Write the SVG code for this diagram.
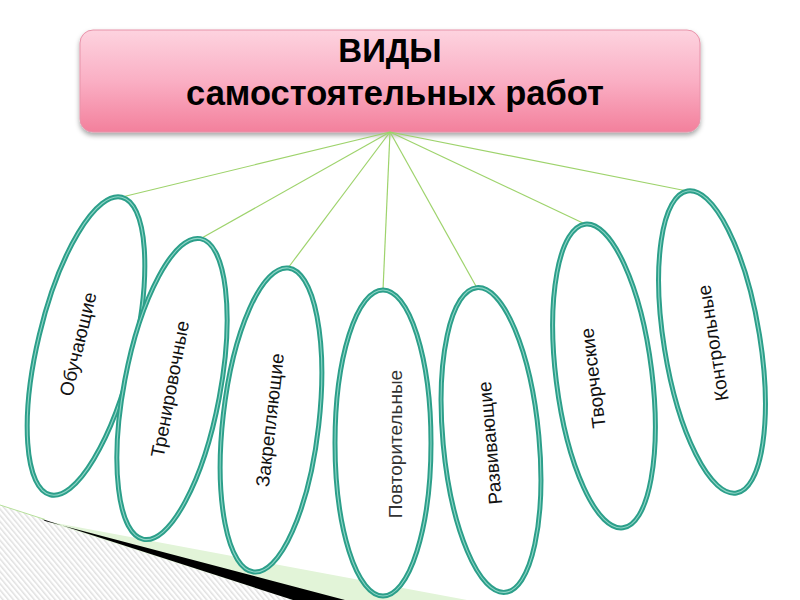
<svg xmlns="http://www.w3.org/2000/svg" width="800" height="600" viewBox="0 0 800 600">
  <defs>
    <linearGradient id="pink" x1="0" y1="0" x2="0" y2="1">
      <stop offset="0" stop-color="#fdd3df"/>
      <stop offset="0.5" stop-color="#faafc4"/>
      <stop offset="1" stop-color="#f3809c"/>
    </linearGradient>
    <pattern id="hatch" width="4" height="4" patternUnits="userSpaceOnUse" patternTransform="rotate(-40)">
      <rect width="4" height="4" fill="#ffffff"/>
      <rect width="1.5" height="4" fill="#e0e0e0"/>
    </pattern>
    <filter id="shadow" x="-5%" y="-10%" width="110%" height="130%">
      <feDropShadow dx="0" dy="3" stdDeviation="2.5" flood-color="#000" flood-opacity="0.35"/>
    </filter>
    <style>
      .oval-outer { fill: #ffffff; stroke: #2c9f8a; stroke-width: 5; }
      .oval-inner { fill: none; stroke: #8fd6c7; stroke-width: 1.1; }
      .lbl { font-family: "Liberation Sans", Arial, sans-serif; font-size: 19px; fill: #111; text-anchor: middle; dominant-baseline: central; }
      .lbl-light { fill: #333; }
      .title { font-family: "Liberation Sans", Arial, sans-serif; font-weight: bold; fill: #000; text-anchor: middle; }
      .conn { stroke: #9ed36c; stroke-width: 1.2; fill: none; }
    </style>
  </defs>

  <rect width="800" height="600" fill="#ffffff"/>

  <!-- bottom-left decoration -->
  <g id="decoration">
    <polygon points="0,505 293,600 0,600" fill="url(#hatch)"/>
    <polygon points="45,521 467,600 293,600" fill="#e2f4d8"/>
    <polygon points="45,521 345,600 293,600 42,519" fill="#000000"/>
    <line x1="0" y1="505" x2="45" y2="519.5" stroke="#b6e09a" stroke-width="1"/>
  </g>

  <!-- title -->
  <g id="title">
    <rect x="80" y="30" width="620" height="102" rx="13" ry="13" fill="url(#pink)" stroke="#e893aa" stroke-width="1" filter="url(#shadow)"/>
    <text class="title" x="390" y="62" font-size="33">ВИДЫ</text>
    <text class="title" x="395" y="105" font-size="34.5">самостоятельных работ</text>
  </g>

  <!-- connectors -->
  <g id="connectors">
    <line class="conn" x1="390" y1="132" x2="122" y2="197"/>
    <line class="conn" x1="390" y1="132" x2="200" y2="239"/>
    <line class="conn" x1="390" y1="132" x2="288" y2="268"/>
    <line class="conn" x1="390" y1="132" x2="383" y2="290"/>
    <line class="conn" x1="390" y1="132" x2="477" y2="288"/>
    <line class="conn" x1="390" y1="132" x2="585" y2="224"/>
    <line class="conn" x1="390" y1="132" x2="687" y2="191"/>
  </g>

  <!-- nodes -->
  <g id="node-obuchayushchie">
    <ellipse class="oval-outer" cx="86" cy="346" rx="48" ry="153" transform="rotate(13.5 86 346)"/>
    <ellipse class="oval-inner" cx="86" cy="346" rx="48" ry="153" transform="rotate(13.5 86 346)"/>
    <text class="lbl" x="78" y="344" transform="rotate(-76.5 78 344)">Обучающие</text>
  </g>
  <g id="node-trenirovochnye">
    <ellipse class="oval-outer" cx="172" cy="389" rx="48" ry="153" transform="rotate(10.7 172 389)"/>
    <ellipse class="oval-inner" cx="172" cy="389" rx="48" ry="153" transform="rotate(10.7 172 389)"/>
    <text class="lbl" x="170" y="389" transform="rotate(-79.3 170 389)">Тренировочные</text>
  </g>
  <g id="node-zakreplyayushchie">
    <ellipse class="oval-outer" cx="271" cy="420" rx="48" ry="153" transform="rotate(6.5 271 420)"/>
    <ellipse class="oval-inner" cx="271" cy="420" rx="48" ry="153" transform="rotate(6.5 271 420)"/>
    <text class="lbl" x="270" y="420" transform="rotate(-83.5 270 420)">Закрепляющие</text>
  </g>
  <g id="node-povtoritelnye">
    <ellipse class="oval-outer" cx="383" cy="443" rx="48" ry="153"/>
    <ellipse class="oval-inner" cx="383" cy="443" rx="48" ry="153"/>
    <text class="lbl lbl-light" x="395" y="444" transform="rotate(-90 395 444)">Повторительные</text>
  </g>
  <g id="node-razvivayushchie">
    <ellipse class="oval-outer" cx="491" cy="440" rx="48" ry="153" transform="rotate(-5.3 491 440)"/>
    <ellipse class="oval-inner" cx="491" cy="440" rx="48" ry="153" transform="rotate(-5.3 491 440)"/>
    <text class="lbl" x="490" y="443" transform="rotate(-95.3 490 443)">Развивающие</text>
  </g>
  <g id="node-tvorcheskie">
    <ellipse class="oval-outer" cx="604" cy="376" rx="48" ry="153" transform="rotate(-7.1 604 376)"/>
    <ellipse class="oval-inner" cx="604" cy="376" rx="48" ry="153" transform="rotate(-7.1 604 376)"/>
    <text class="lbl" x="593" y="378" transform="rotate(-97.1 593 378)">Творческие</text>
  </g>
  <g id="node-kontrolnye">
    <ellipse class="oval-outer" cx="712" cy="342" rx="48" ry="153" transform="rotate(-9.2 712 342)"/>
    <ellipse class="oval-inner" cx="712" cy="342" rx="48" ry="153" transform="rotate(-9.2 712 342)"/>
    <text class="lbl" x="713" y="343" transform="rotate(-99.2 713 343)">Контрольные</text>
  </g>
</svg>
